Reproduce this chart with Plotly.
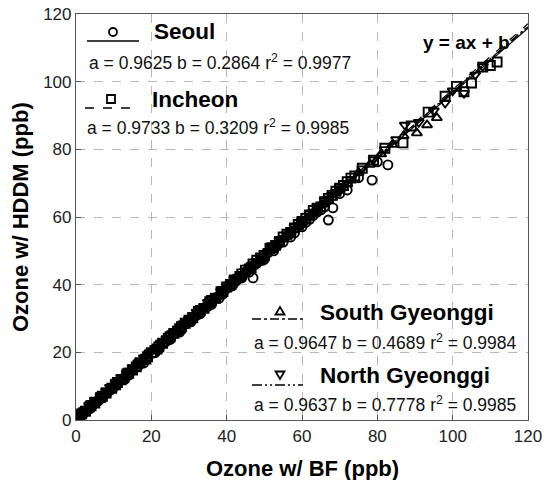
import plotly.graph_objects as go

# ---------------- data ----------------
seoul_bf = [0.5,1.2,2,3,4,5,6,7.5,8.5,10,11,12.5,14,15,16.5,18,19,20.5,22,23.5,25,26.5,28,29,30.5,32,33,34.5,36,37.5,39,40,41.5,43,44,45.5,47,48,49.5,51,52.5,54,55,56.5,58,59.5,61,63,65,67,68.2,70,72,75,78.6,80,82.8,
            1.8,3.5,5.5,9,13,17,21,24,27.5,31,35,38,42,46,50,53,57,60,62,64,66]
seoul_hddm = [0.7,1.3,2.1,2.9,4.0,4.9,5.7,7.4,8.3,9.6,10.8,12.0,13.3,14.8,15.9,16.9,18.5,19.8,21.0,22.9,23.8,25.7,26.6,28.3,29.0,30.9,31.4,33.5,34.2,36.3,37.2,38.9,39.6,41.6,42.0,44.2,42.0,46.3,47.2,49.5,50.0,52.3,52.6,54.8,55.3,57.7,58.4,60.5,62.1,59.1,62.7,66.9,68.0,71.6,70.9,76.3,75.4,
              1.6,3.2,5.4,8.8,12.1,16.5,19.9,23.3,26.0,29.9,33.6,36.0,40.6,43.7,47.5,51.3,54.1,57.1,59.3,61.4,63.0]

incheon_bf = [0.3,1,2.5,3.5,5,6.5,8,9.5,11,12,13.5,15,17,18.5,20,21.5,23,24.5,26,27.5,29,31,32.5,34,35.5,37,38.5,40,42,43.5,45,46.5,48,50,51.5,53,55,57,59,61,63,65,67,69,71,73,76,79,82,86.8,89,93.5,98,101,103,105,108,110,111.8,
              1.5,4,7,10.5,14,16,19,22,25,28,30,33,36,39,41,44,47,49,52,54,56,58,60,62,64,66,68,70,72,74]
incheon_hddm = [0.6,1.4,2.6,3.8,5.0,6.6,8.0,9.4,11.1,11.9,13.6,14.8,16.9,18.0,19.9,21.0,22.7,24.2,25.6,27.0,28.6,30.2,32.1,33.0,35.0,36.0,37.9,39.3,41.4,42.4,44.3,45.0,47.2,48.6,50.7,51.6,54.1,55.4,57.8,59.6,61.9,63.0,65.5,67.6,69.3,71.5,74.4,76.8,80.3,81.9,86.9,91.0,95.7,98.6,97.0,99.6,104.3,104.8,105.8,
                1.8,4.2,7.0,10.4,13.8,15.7,18.7,21.6,24.6,27.6,29.5,32.4,35.3,38.0,40.1,43.2,46.1,47.9,50.9,52.8,54.9,56.8,58.7,60.6,62.6,64.5,66.4,68.5,70.4,72.1]

sgg_bf = [0.5,1.5,3,4.5,6,7,8.5,10,11.5,13,14.5,16,17.5,19,20.5,22,23.5,25,27,28.5,30,31.5,33,35,36.5,38,40,41.5,43,45,47,49,51,53,55,57,59,61,63,65,67,69,72,75,78,81,84,87,90.5,93.2,95.8,
          2,5,9,12,15,18,21,24,26,29,32,34,37,39,42,44,46,48,50,52,54,56,58,60,62,64,66,68,70]
sgg_hddm = [1.0,1.9,3.4,4.8,6.3,7.3,8.4,10.3,11.4,13.2,14.3,16.1,17.2,18.9,20.5,21.5,23.3,24.4,26.6,28.0,29.4,30.9,32.6,33.9,35.9,37.0,39.2,40.2,42.1,43.8,46.0,47.5,49.9,51.2,53.7,55.4,57.6,59.0,61.3,63.6,65.0,67.3,69.8,73.1,75.5,78.6,81.4,84.0,84.8,87.2,89.3,
            2.4,5.3,9.3,12.1,15.1,18.0,20.8,23.6,25.6,28.4,31.4,33.2,36.0,38.2,40.9,42.8,44.9,46.7,48.6,50.7,52.4,54.6,56.3,58.5,60.2,62.4,64.3,65.8,68.0]

ngg_bf = [0.2,1,2,3.5,5,6.5,8,9,10.5,12,13.5,15,16.5,18,19.5,21,22.5,24,25.5,27,28.5,30,32,33.5,35,37,38.5,40,42,44,46,48,50,52,54,56,58,60,62,64,66,68,70,73,76,79,82,85,87.3,91,95,98,100,103,106,108,
          1.5,4,7,11,14,17,20,23,26,29,31,34,36,39,41,43,45,47,49,51,53,55,57,59,61,63,65,67,69,71]
ngg_hddm = [0.8,1.9,2.8,4.3,5.9,7.0,8.6,9.7,11.0,12.6,13.8,15.5,16.9,18.4,19.9,21.2,22.8,24.1,25.6,27.0,28.5,29.8,31.9,33.0,34.8,36.4,38.1,39.4,41.6,43.0,45.3,46.9,49.3,51.0,53.1,54.8,57.1,58.9,61.0,62.8,64.9,66.5,68.9,71.2,74.3,77.0,80.0,82.9,87.2,88.0,91.4,93.7,97.3,96.6,102.0,104.5,
            2.3,4.9,7.6,11.6,14.5,17.4,20.3,23.0,26.1,28.7,30.9,33.6,35.6,38.2,40.4,42.3,44.1,46.0,48.0,49.9,51.9,53.7,55.6,57.5,59.4,61.5,63.2,65.4,67.3,69.0]

regions = ["Seoul", "Incheon", "South Gyeonggi", "North Gyeonggi"]
slope_a = [0.9625, 0.9733, 0.9647, 0.9637]
intercept_b = [0.2864, 0.3209, 0.4689, 0.7778]
r_squared = [0.9977, 0.9985, 0.9984, 0.9985]
fit_range = [0, 120]
axis_ticks = [0, 20, 40, 60, 80, 100, 120]
x_title = "Ozone w/ BF (ppb)"
y_title = "Ozone w/ HDDM (ppb)"
eq_label = "y = ax + b"

# ---------------- styles ----------------
FONT = "Liberation Sans, Arial, sans-serif"
symbols = ["circle-open", "square-open", "triangle-up-open", "triangle-down-open"]
dashes = ["solid", "dash", "dashdot", "10px,3px,2px,3px,2px,3px"]
xs_all = [seoul_bf, incheon_bf, sgg_bf, ngg_bf]
ys_all = [seoul_hddm, incheon_hddm, sgg_hddm, ngg_hddm]

fig = go.Figure()
for i, name in enumerate(regions):
    fig.add_trace(go.Scatter(
        x=xs_all[i], y=ys_all[i], mode="markers", name=name,
        marker=dict(symbol=symbols[i], size=9, color="black",
                    line=dict(width=1.9, color="black")),
        showlegend=False))
for i, name in enumerate(regions):
    fx = fit_range
    fy = [slope_a[i] * v + intercept_b[i] for v in fx]
    fig.add_trace(go.Scatter(
        x=fx, y=fy, mode="lines", name=name + " fit",
        line=dict(color="black", width=1.2, dash=dashes[i]),
        showlegend=False))

# ---------------- legend blocks (paper coords from pixels) ----------------
L, R, T, B = 76, 528, 14, 420
def px(X):
    return (X - L) / (R - L)
def py(Y):
    return (B - Y) / (B - T)

# entries: (line x0, x1, line y, marker x, marker y, name x, name y, formula x, formula y)
blocks = [
    (87, 139, 41, 113, 32, 152, 32, 87, 62),
    (85, 133, 108, 111, 99, 150, 100, 85, 127),
    (252, 303, 319, 280, 311, 318, 312, 252, 342),
    (252, 303, 385, 280, 375, 318, 375, 252, 404),
]
shapes = []
for i, blk in enumerate(blocks):
    lx0, lx1, ly, mx, my, nx, ny, tx, ty = blk
    shapes.append(dict(type="line", xref="paper", yref="paper",
                       x0=px(lx0), x1=px(lx1), y0=py(ly), y1=py(ly),
                       line=dict(color="black", width=1.3, dash=dashes[i])))
    r = 4
    if i == 0:
        shapes.append(dict(type="circle", xref="paper", yref="paper",
                           x0=px(mx - r), x1=px(mx + r), y0=py(my + r), y1=py(my - r),
                           line=dict(color="black", width=1.8), fillcolor="white"))
    elif i == 1:
        shapes.append(dict(type="rect", xref="paper", yref="paper",
                           x0=px(mx - r), x1=px(mx + r), y0=py(my + r), y1=py(my - r),
                           line=dict(color="black", width=1.8), fillcolor="white"))
    elif i == 2:
        path = "M {} {} L {} {} L {} {} Z".format(px(mx - r - 0.5), py(my + r - 0.5), px(mx + r + 0.5), py(my + r - 0.5), px(mx), py(my - r))
        shapes.append(dict(type="path", xref="paper", yref="paper", path=path,
                           line=dict(color="black", width=1.8), fillcolor="white"))
    else:
        path = "M {} {} L {} {} L {} {} Z".format(px(mx - r - 0.5), py(my - r + 0.5), px(mx + r + 0.5), py(my - r + 0.5), px(mx), py(my + r))
        shapes.append(dict(type="path", xref="paper", yref="paper", path=path,
                           line=dict(color="black", width=1.8), fillcolor="white"))

annotations = []
for i, blk in enumerate(blocks):
    lx0, lx1, ly, mx, my, nx, ny, tx, ty = blk
    annotations.append(dict(xref="paper", yref="paper", x=px(nx), y=py(ny),
                            xanchor="left", yanchor="middle", showarrow=False,
                            text="<b>{}</b>".format(regions[i]),
                            font=dict(family=FONT, size=22.5, color="black")))
    annotations.append(dict(xref="paper", yref="paper", x=px(tx), y=py(ty),
                            xanchor="left", yanchor="middle", showarrow=False,
                            text="a = {:.4f} b = {:.4f} r<sup>2</sup> = {:.4f}".format(slope_a[i], intercept_b[i], r_squared[i]),
                            font=dict(family=FONT, size=17.5, color="#111")))
annotations.append(dict(xref="paper", yref="paper", x=px(512), y=py(42),
                        xanchor="right", yanchor="middle", showarrow=False,
                        text="<b>{}</b>".format(eq_label),
                        font=dict(family=FONT, size=19, color="black")))
# axis titles
annotations.append(dict(xref="paper", yref="paper", x=px(302), y=py(468),
                        xanchor="center", yanchor="middle", showarrow=False,
                        text="<b>{}</b>".format(x_title),
                        font=dict(family=FONT, size=22, color="black")))
annotations.append(dict(xref="paper", yref="paper", x=px(20), y=py(217),
                        xanchor="center", yanchor="middle", showarrow=False,
                        textangle=-90,
                        text="<b>{}</b>".format(y_title),
                        font=dict(family=FONT, size=22, color="black")))

axis_common = dict(
    range=[0, 120], tickvals=axis_ticks, ticktext=[str(t) for t in axis_ticks],
    showgrid=True, gridcolor="#b8b8b8", gridwidth=1, griddash="dash",
    showline=True, linecolor="#555", linewidth=1.2, mirror=True,
    ticks="inside", ticklen=5, tickcolor="#555", tickwidth=1,
    tickfont=dict(family=FONT, size=17, color="#222"),
    zeroline=False, automargin=False,
)

fig.update_layout(
    width=550, height=480,
    margin=dict(l=L, r=550 - R, t=T, b=480 - B),
    plot_bgcolor="white", paper_bgcolor="white",
    xaxis=dict(**axis_common),
    yaxis=dict(**axis_common),
    shapes=shapes, annotations=annotations,
)

fig.write_html("out.html")
